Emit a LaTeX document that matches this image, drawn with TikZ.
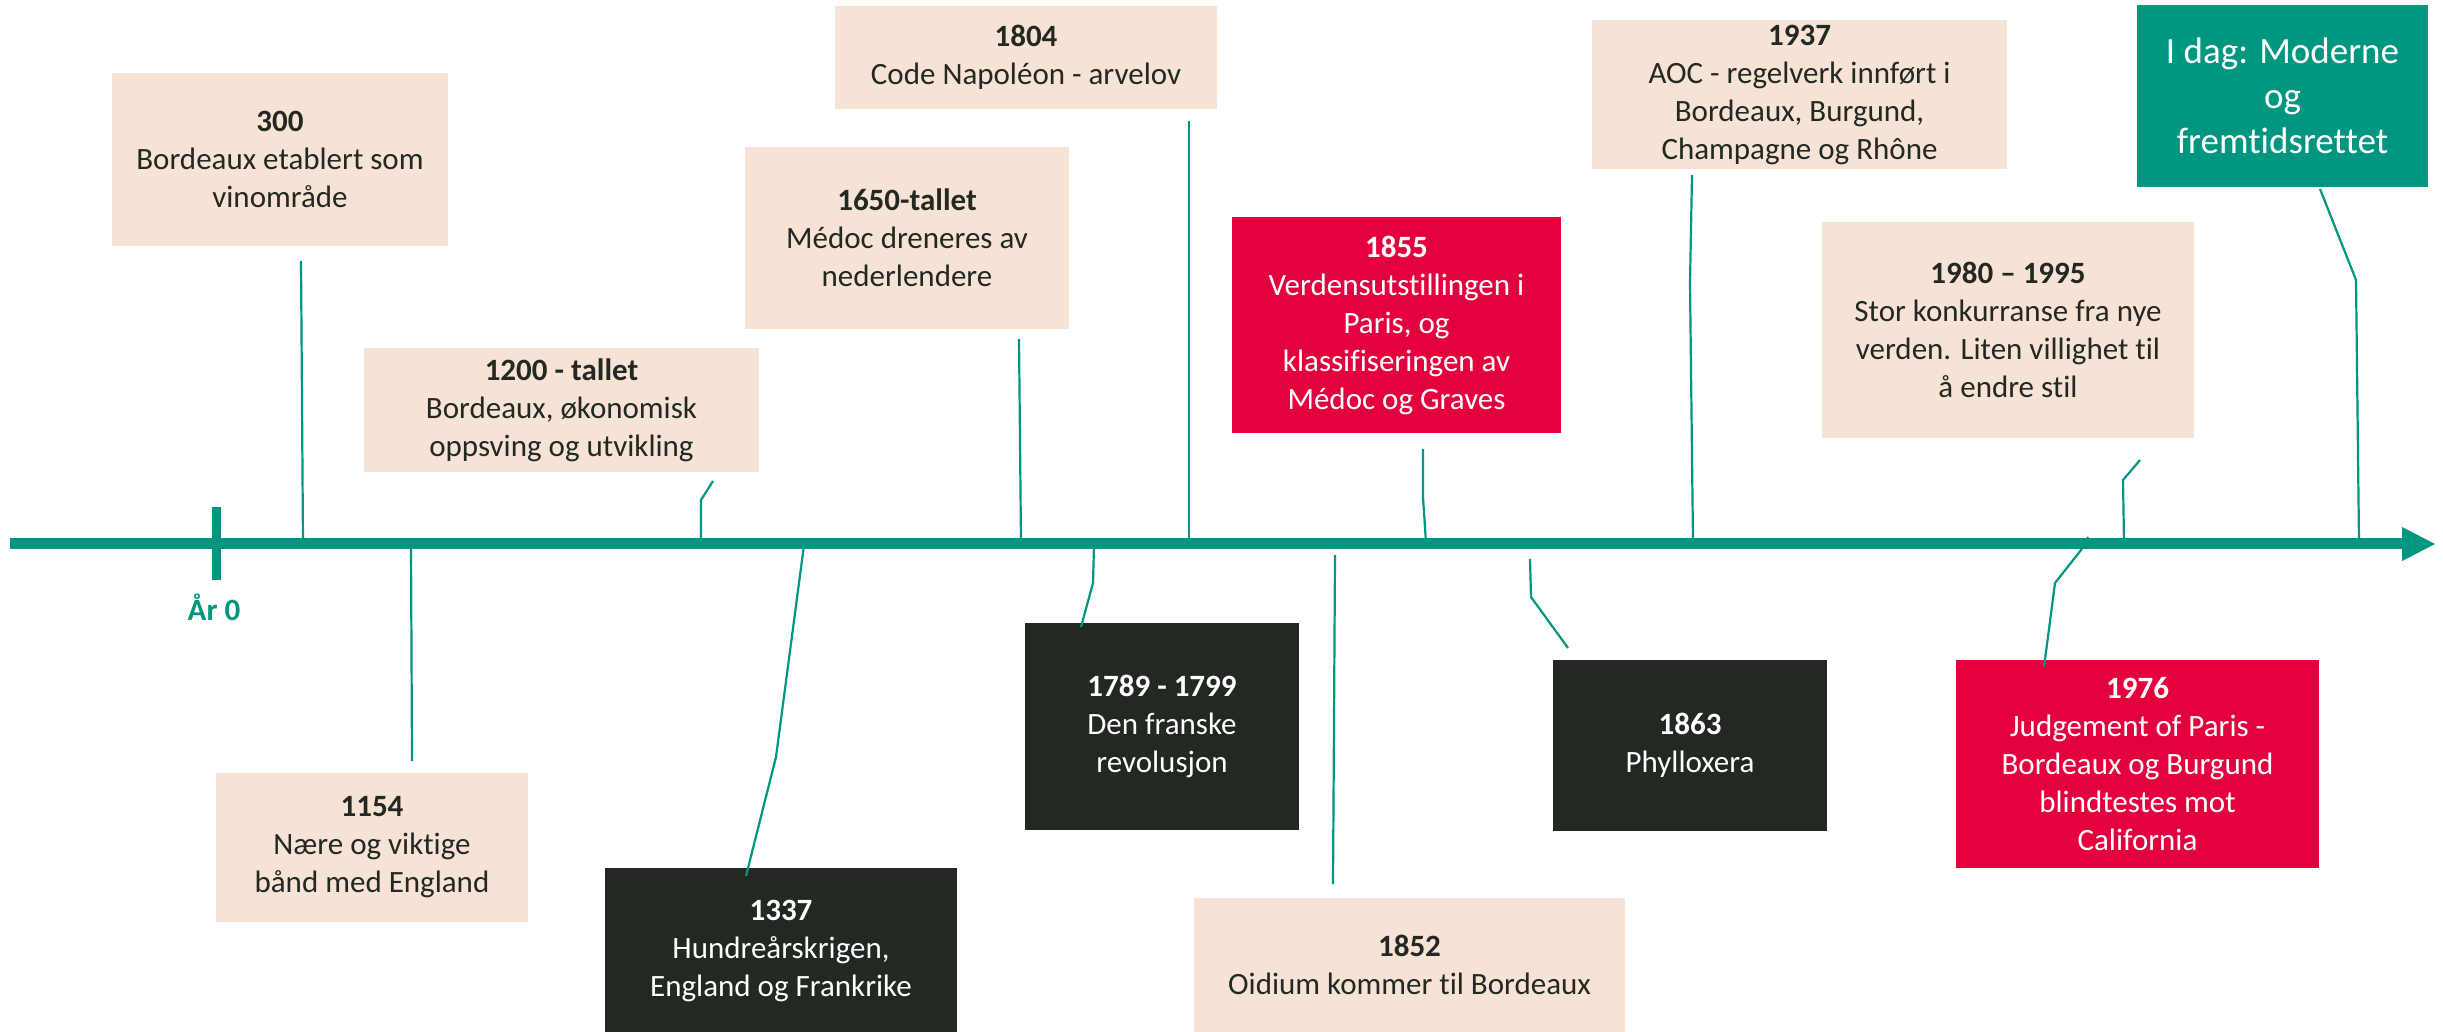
\documentclass[tikz,border=0pt]{standalone}
\usepackage{fontspec}
\setmainfont{Carlito}[Ligatures=NoCommon]
\definecolor{peach}{HTML}{F6E3D6}
\definecolor{darkc}{HTML}{232823}
\definecolor{crimson}{HTML}{E4003E}
\definecolor{tealc}{HTML}{009680}
\definecolor{ink}{HTML}{232823}
\newcommand\evfont{\fontsize{31}{38}\selectfont}
\newcommand\bigevfont{\fontsize{37}{45}\selectfont}
\begin{document}
\begin{tikzpicture}[x=1pt,y=-1pt,
  evbox/.style={inner sep=0pt, align=center, font=\evfont},
  peachbox/.style={evbox, fill=peach, text=ink},
  darkbox/.style={evbox, fill=darkc, text=white},
  redbox/.style={evbox, fill=crimson, text=white},
  tealbox/.style={inner sep=0pt, align=center, font=\bigevfont, fill=tealc, text=white},
  conn/.style={draw=tealc, line width=2.2pt, line join=miter},
  axisline/.style={draw=tealc, line width=11.5pt},
  ticksty/.style={draw=tealc, line width=9pt}]
\useasboundingbox (0,0) rectangle (2443,1031);
\fill[white] (0,0) rectangle (2443,1031);

% boxes
\node[peachbox, minimum width=336pt, minimum height=173pt] (n300) at (280,159.5) {\textbf{300}\\Bordeaux etablert som\\vinområde};
\node[peachbox, minimum width=395pt, minimum height=124pt] (n1200) at (561.5,410) {\textbf{1200 - tallet}\\Bordeaux, økonomisk\\oppsving og utvikling};
\node[peachbox, minimum width=312pt, minimum height=149pt] (n1154) at (372,847.5) {\textbf{1154}\\Nære og viktige\\bånd med England};
\node[darkbox, minimum width=352pt, minimum height=167pt] (n1337) at (781,951) {\textbf{1337}\\Hundreårskrigen,\\England og Frankrike};
\node[peachbox, minimum width=324pt, minimum height=182pt] (n1650) at (907,238) {\textbf{1650-tallet}\\Médoc dreneres av\\nederlendere};
\node[peachbox, minimum width=382pt, minimum height=103pt] (n1804) at (1026,57.5) {\textbf{1804}\\Code Napoléon - arvelov};
\node[darkbox, minimum width=274pt, minimum height=207pt] (n1789) at (1162,726.5) {\textbf{1789 - 1799}\\Den franske\\revolusjon};
\node[peachbox, minimum width=431pt, minimum height=135pt] (n1852) at (1409.5,965) {\textbf{1852}\\Oidium kommer til Bordeaux};
\node[redbox, minimum width=329pt, minimum height=216pt] (n1855) at (1396.5,325) {\textbf{1855}\\Verdensutstillingen i\\Paris, og\\klassifiseringen av\\Médoc og Graves};
\node[darkbox, minimum width=274pt, minimum height=171pt] (n1863) at (1690,745.5) {\textbf{1863}\\Phylloxera};
\node[peachbox, minimum width=415pt, minimum height=149pt] (n1937) at (1799.5,94.5) {\textbf{1937}\\AOC - regelverk innført i\\Bordeaux, Burgund,\\Champagne og Rhône};
\node[peachbox, minimum width=372pt, minimum height=216pt] (n1980) at (2008,330) {\textbf{1980 – 1995}\\Stor konkurranse fra nye\\verden. Liten villighet til\\å endre stil};
\node[tealbox, minimum width=291pt, minimum height=182pt] (nidag) at (2282.5,96) {I dag: Moderne\\og\\fremtidsrettet};
\node[redbox, minimum width=363pt, minimum height=208pt] (n1976) at (2137.5,764) {\textbf{1976}\\Judgement of Paris -\\Bordeaux og Burgund\\blindtestes mot\\California};

% axis
\coordinate (axstart) at (10,543.5);
\coordinate (axend) at (2403,543.5);
\draw[axisline] (axstart) -- (axend);
\fill[tealc] (2402,527) -- (2435,544) -- (2402,561) -- cycle;
\coordinate (tktop) at (216,507);
\coordinate (tkbot) at (216,580);
\draw[ticksty] (tktop) -- (tkbot);
\node[font=\evfont\bfseries, text=tealc, inner sep=0pt] (ar0) at (214,607) {År 0};

% connector points
\coordinate (a1) at (301,261);   \coordinate (a2) at (303,543);
\coordinate (b1) at (713,481);   \coordinate (b2) at (701,500);  \coordinate (b3) at (701,543);
\coordinate (c1) at (411,545);   \coordinate (c2) at (412,761);
\coordinate (d1) at (804,545);   \coordinate (d2) at (776,757);  \coordinate (d3) at (746,876);
\coordinate (e1) at (1019,339);  \coordinate (e2) at (1021,543);
\coordinate (f1) at (1189,121);  \coordinate (f2) at (1189,543);
\coordinate (g1) at (1094,545);  \coordinate (g2) at (1093,583); \coordinate (g3) at (1081,627);
\coordinate (h1) at (1335,555);  \coordinate (h2) at (1333,884);
\coordinate (i1) at (1423,449);  \coordinate (i2) at (1423,497); \coordinate (i3) at (1426,543);
\coordinate (j1) at (1530,559);  \coordinate (j2) at (1531,597); \coordinate (j3) at (1568,648);
\coordinate (k1) at (1692,175);  \coordinate (k2) at (1690,283); \coordinate (k3) at (1693,543);
\coordinate (l1) at (2140,460);  \coordinate (l2) at (2123,480); \coordinate (l3) at (2124,543);
\coordinate (m1) at (2320,189);  \coordinate (m2) at (2356,280); \coordinate (m3) at (2359,543);
\coordinate (o1) at (2088,537);  \coordinate (o2) at (2081,550); \coordinate (o3) at (2055,583); \coordinate (o4) at (2044,667);

\draw[conn] (a1) -- (a2);
\draw[conn] (b1) -- (b2) -- (b3);
\draw[conn] (c1) -- (c2);
\draw[conn] (d1) -- (d2) -- (d3);
\draw[conn] (e1) -- (e2);
\draw[conn] (f1) -- (f2);
\draw[conn] (g1) -- (g2) -- (g3);
\draw[conn] (h1) -- (h2);
\draw[conn] (i1) -- (i2) -- (i3);
\draw[conn] (j1) -- (j2) -- (j3);
\draw[conn] (k1) -- (k2) -- (k3);
\draw[conn] (l1) -- (l2) -- (l3);
\draw[conn] (m1) -- (m2) -- (m3);
\draw[conn] (o1) -- (o2) -- (o3) -- (o4);
\end{tikzpicture}
\end{document}
